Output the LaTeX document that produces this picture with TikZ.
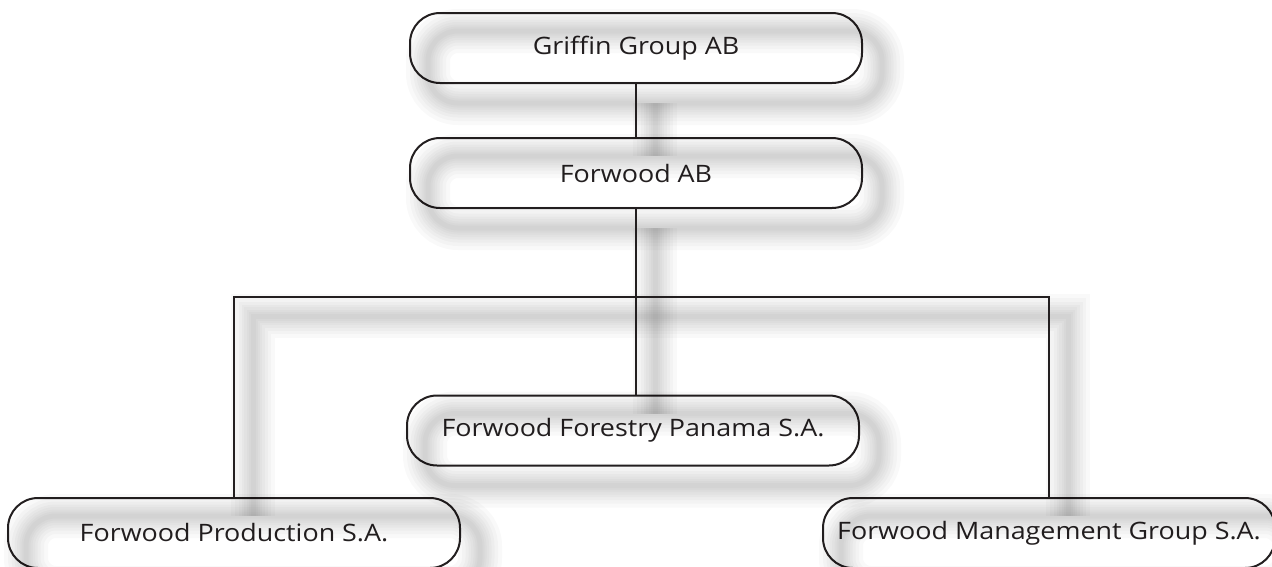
\documentclass[tikz,border=0pt]{standalone}
\usepackage{fontspec}
\setmainfont{Open Sans}[FakeStretch=1.12]
\definecolor{linec}{HTML}{231F20}
\begin{document}
\begin{tikzpicture}[x=1pt,y=-1pt,
  orgbox/.style={draw=linec, line width=2pt, rounded corners=30pt,
    minimum width=452pt, minimum height=70pt, inner sep=0pt,
    font=\fontsize{24}{28}\selectfont, text=linec},
  conn/.style={draw=linec, line width=2pt}]
\useasboundingbox (0,0) rectangle (1272,566);
\clip (0,0) rectangle (1272,566);
% boxes
\node[orgbox] (g) at (636,48) {Griffin Group AB};
\node[orgbox] (f) at (636,173) {Forwood AB};
\node[orgbox] (p) at (633,430.5) {Forwood Forestry Panama S.A.};
\node[orgbox] (prod) at (234,533) {Forwood Production S.A.};
\node[orgbox] (mgmt) at (1049,533) {Forwood Management Group S.A.};
\coordinate (bar) at (0,297);
% shadows
\foreach \w in {44,36,29,23,18,13,9,5}{
  \begin{scope}[line width=\w pt, draw=black, draw opacity=0.022]
    \foreach \n in {g,f,p,prod,mgmt}{
      \draw[rounded corners=30pt] ([shift={(19,19)}]\n.south west) rectangle ([shift={(19,19)}]\n.north east);
    }
    \draw ([shift={(19,19)}]g.south) -- ([shift={(19,19)}]f.north);
    \draw ([shift={(19,19)}]f.south) -- ([shift={(19,19)}]f.south |- p.north);
    \draw[line join=miter] ([shift={(19,19)}]prod.north) -- ([shift={(19,19)}]prod.north |- bar)
      -- ([shift={(19,19)}]mgmt.north |- bar) -- ([shift={(19,19)}]mgmt.north);
  \end{scope}
}
% connectors
\draw[conn] (g.south) -- (f.north);
\draw[conn] (f.south) -- (f.south |- p.north);
\draw[conn] (prod.north) -- (prod.north |- bar) -- (mgmt.north |- bar) -- (mgmt.north);
\end{tikzpicture}
\end{document}
